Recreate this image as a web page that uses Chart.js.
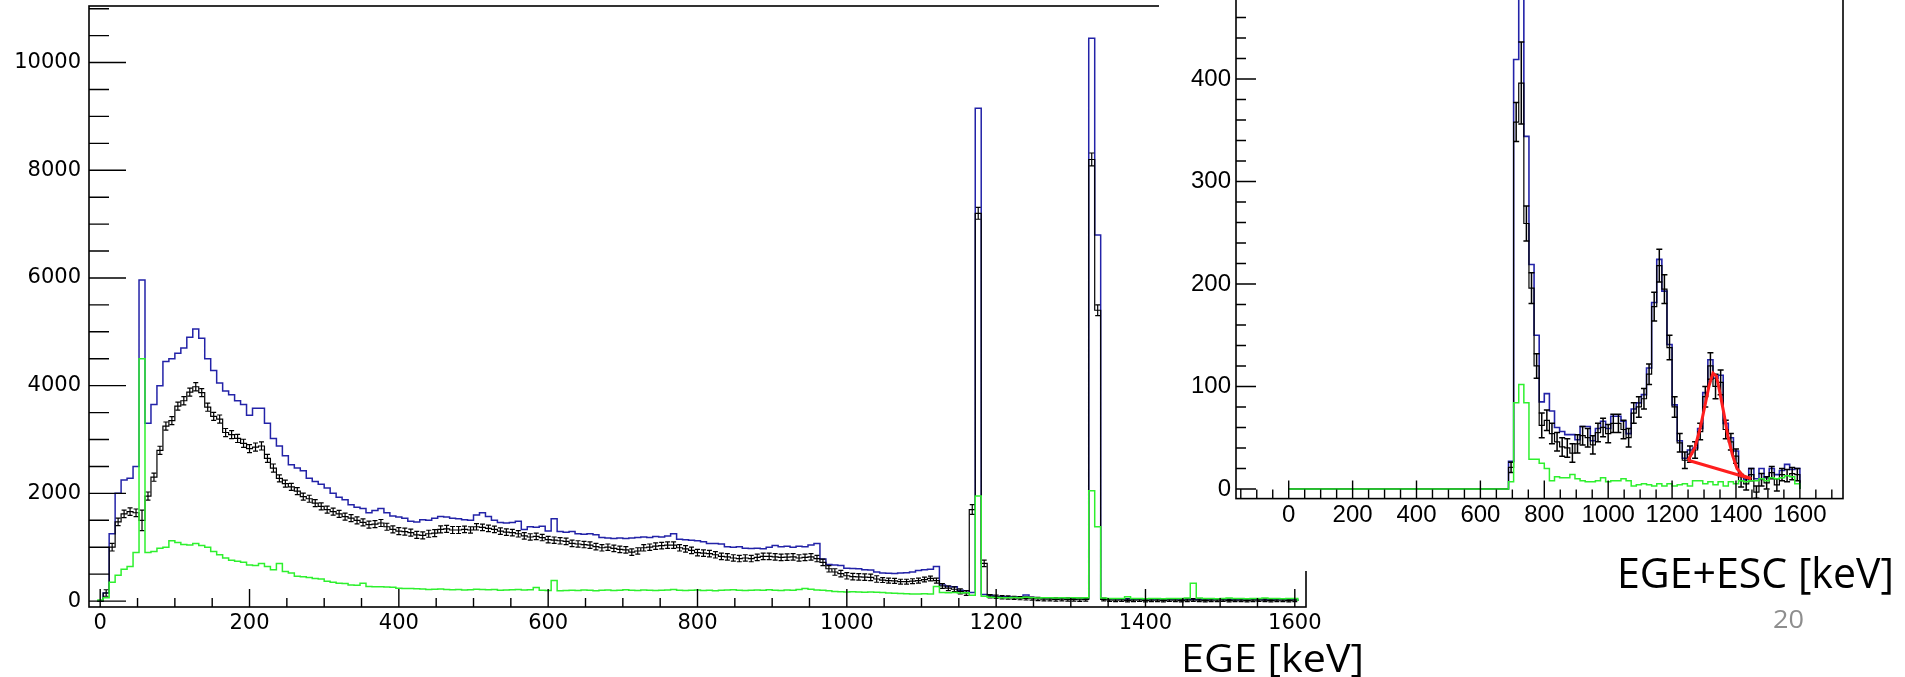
<!DOCTYPE html>
<html>
<head>
<meta charset="utf-8">
<script src="https://cdn.jsdelivr.net/npm/chart.js@4.4.0/dist/chart.umd.min.js"></script>
<style>
  html, body { margin: 0; padding: 0; background: #fff; }
  body { position: relative; width: 1905px; height: 677px; overflow: hidden; }
  canvas { position: absolute; }
  #leftChart { left: 0; top: 0; }
  #rightChart { left: 1159px; top: -25px; }
  .lbl { position: absolute; font-family: "Open Sans", sans-serif; color: #000; white-space: nowrap; line-height: 1; transform-origin: 0 0; }
  #egeTitle { left: 1181px; top: 637px; font-size: 39px; }
  #sumTitle { left: 1617px; top: 551px; font-size: 42px; }
  #pageNum { left: 1773px; top: 605px; font-size: 26px; color: #8e8e8e; }
</style>
</head>
<body>
<canvas id="leftChart" width="1905" height="677"></canvas>
<canvas id="rightChart" width="746" height="596"></canvas>
<div class="lbl" id="egeTitle">EGE [keV]</div>
<div class="lbl" id="sumTitle">EGE+ESC [keV]</div>
<div class="lbl" id="pageNum">20</div>
<script>
// ---- left spectrum: EGE, 8 keV bins, bin i covers [8i-4, 8i+4) ----
var leftFirstEdge = -4;
var leftBinWidth = 8;
var leftXTicks = [0, 200, 400, 600, 800, 1000, 1200, 1400, 1600];
var leftYTicks = [0, 2000, 4000, 6000, 8000, 10000];

var leftBlue = [
  0, 150, 1250, 2000, 2250, 2280, 2500, 5960, 3300, 3650,
  4000, 4450, 4500, 4600, 4700, 4900, 5050, 4880, 4500, 4280,
  4050, 3900, 3830, 3720, 3650, 3450, 3580, 3580, 3300, 3020,
  2880, 2700, 2530, 2470, 2420, 2280, 2220, 2170, 2100, 2000,
  1930, 1880, 1790, 1740, 1720, 1640, 1680, 1720, 1640, 1580,
  1560, 1540, 1480, 1470, 1510, 1500, 1540, 1570, 1560, 1540,
  1530, 1510, 1500, 1600, 1640, 1570, 1500, 1460, 1450, 1460,
  1480, 1330, 1380, 1370, 1390, 1300, 1530, 1290, 1280, 1290,
  1250, 1240, 1250, 1230, 1180, 1170, 1160, 1170, 1160, 1170,
  1180, 1190, 1180, 1200, 1190, 1210, 1250, 1150, 1140, 1130,
  1120, 1100, 1070, 1070, 1060, 1010, 1000, 1010, 980, 975,
  980, 970, 1000, 1030, 1010, 1020, 1000, 1020, 1010, 1040,
  1070, 780, 680, 670, 660, 610, 605, 600, 580, 575,
  540, 520, 515, 510, 520, 525, 540, 570, 580, 590,
  640, 300, 270, 265, 200, 190, 160, 9150, 120, 110,
  85, 80, 80, 75, 80, 115, 65, 60, 55, 55,
  50, 55, 50, 50, 45, 50, 10450, 6800, 45, 40,
  40, 35, 45, 35, 35, 30, 30, 35, 30, 30,
  35, 30, 40, 30, 30, 25, 30, 35, 30, 30,
  25, 30, 30, 35, 30, 25, 30, 30, 30, 25,
  30
];

var leftBlack = [
  0, 150, 1000, 1470, 1620, 1660, 1640, 1500, 1950, 2300,
  2800, 3250, 3350, 3620, 3720, 3880, 3980, 3870, 3600, 3430,
  3380, 3130, 3090, 3020, 2930, 2830, 2860, 2880, 2650, 2470,
  2280, 2180, 2120, 2040, 1940, 1900, 1820, 1760, 1700, 1660,
  1620, 1570, 1540, 1500, 1460, 1420, 1430, 1450, 1380, 1330,
  1300, 1290, 1270, 1230, 1220, 1250, 1260, 1330, 1340, 1320,
  1320, 1330, 1320, 1380, 1370, 1350, 1330, 1300, 1280, 1270,
  1250, 1210, 1190, 1200, 1180, 1140, 1130, 1120, 1110, 1070,
  1060, 1050, 1040, 1010, 990, 1000, 980, 960, 950, 910,
  930, 990, 1000, 1020, 1030, 1040, 1040, 990, 970, 940,
  900, 890, 880, 860, 830, 820, 800, 790, 800, 790,
  810, 830, 830, 820, 810, 815, 820, 800, 810, 820,
  790, 720, 600, 540, 510, 470, 455, 450, 445, 440,
  410, 390, 380, 375, 360, 360, 370, 380, 400, 420,
  380, 280, 240, 220, 180, 150, 1700, 7200, 700, 90,
  80, 70, 65, 60, 55, 50, 45, 40, 35, 35,
  30, 35, 30, 30, 25, 30, 8200, 5400, 30, 20,
  15, 20, 10, 15, 20, 10, 15, 15, 10, 20,
  15, 10, 15, 20, 15, 10, 15, 15, 20, 10,
  15, 15, 10, 15, 20, 15, 10, 15, 15, 10,
  15
];

var leftBlackErr = [
  0, 60, 70, 70, 70, 70, 70, 190, 75, 75,
  75, 75, 75, 75, 75, 75, 75, 75, 75, 75,
  75, 75, 75, 75, 75, 75, 75, 75, 75, 75,
  65, 65, 65, 65, 65, 65, 65, 65, 65, 65,
  65, 65, 65, 65, 65, 65, 65, 65, 65, 65,
  65, 65, 65, 65, 65, 65, 65, 65, 65, 65,
  65, 60, 60, 60, 60, 60, 60, 60, 60, 60,
  60, 60, 60, 60, 60, 60, 60, 60, 60, 60,
  60, 60, 60, 60, 60, 60, 60, 60, 60, 60,
  60, 60, 60, 60, 60, 60, 60, 60, 60, 60,
  60, 60, 60, 60, 60, 60, 60, 60, 60, 60,
  60, 60, 60, 60, 60, 60, 60, 60, 60, 60,
  60, 60, 60, 60, 60, 60, 60, 60, 60, 60,
  60, 45, 45, 45, 45, 45, 45, 45, 45, 45,
  45, 45, 45, 45, 45, 45, 90, 110, 60, 30,
  30, 30, 30, 30, 30, 30, 30, 30, 30, 30,
  30, 30, 30, 30, 30, 30, 120, 100, 25, 25,
  25, 25, 25, 25, 25, 25, 25, 25, 25, 25,
  25, 25, 25, 25, 25, 25, 25, 25, 25, 25,
  25, 25, 25, 25, 25, 25, 25, 25, 25, 25,
  25
];

var leftGreen = [
  20, 60, 350, 480, 590, 640, 900, 4500, 900, 920,
  980, 1000, 1120, 1090, 1050, 1040, 1070, 1030, 1000, 920,
  860, 800, 760, 740, 720, 670, 660, 700, 640, 580,
  700, 550, 520, 460, 450, 440, 420, 410, 370, 350,
  330, 325, 300, 295, 330, 270, 265, 265, 260, 255,
  240, 235, 235, 230, 225, 215, 220, 225, 215, 210,
  215, 205, 210, 220, 215, 210, 215, 200, 205, 210,
  215, 205, 210, 250, 200, 195, 380, 190, 195, 200,
  195, 205, 200, 190, 200, 205, 195, 200, 210, 200,
  195, 205, 200, 195, 200, 205, 215, 200, 195, 200,
  205, 195, 200, 190, 200, 205, 210, 200, 195, 200,
  205, 200, 210, 200, 195, 205, 200, 215, 235, 220,
  205, 200, 190, 180, 175, 170, 175, 170, 165, 170,
  165, 160, 150, 145, 140, 135, 130, 130, 135, 130,
  270, 160, 155, 160, 150, 155, 110, 1950, 90, 70,
  65, 60, 60, 65, 60, 70, 60, 55, 60, 60,
  55, 60, 55, 60, 55, 60, 2050, 1380, 55, 50,
  50, 50, 80, 50, 50, 45, 50, 50, 45, 50,
  50, 50, 55, 330, 55, 50, 50, 45, 50, 55,
  50, 50, 45, 50, 50, 55, 50, 50, 45, 50,
  50
];

// ---- right spectrum: EGE+ESC, 16 keV bins from 0 to 1600 ----
var rightFirstEdge = 0;
var rightBinWidth = 16;
var rightXTicks = [0, 200, 400, 600, 800, 1000, 1200, 1400, 1600];
var rightYTicks = [0, 100, 200, 300, 400];

var rightBlue = [
  0, 0, 0, 0, 0, 0, 0, 0, 0, 0,
  0, 0, 0, 0, 0, 0, 0, 0, 0, 0,
  0, 0, 0, 0, 0, 0, 0, 0, 0, 0,
  0, 0, 0, 0, 0, 0, 0, 0, 0, 0,
  0, 0, 0, 27, 419, 530, 344, 219, 150, 85,
  93, 76, 60, 56, 53, 53, 48, 61, 61, 47,
  59, 66, 59, 71, 71, 66, 54, 78, 84, 92,
  118, 182, 224, 193, 141, 82, 47, 30, 38, 40,
  59, 94, 126, 108, 111, 64, 50, 37, 12, 9,
  20, 10, 20, 11, 20, 14, 18, 24, 19, 20
];

var rightBlack = [
  0, 0, 0, 0, 0, 0, 0, 0, 0, 0,
  0, 0, 0, 0, 0, 0, 0, 0, 0, 0,
  0, 0, 0, 0, 0, 0, 0, 0, 0, 0,
  0, 0, 0, 0, 0, 0, 0, 0, 0, 0,
  0, 0, 0, 21, 358, 396, 259, 196, 120, 62,
  67, 54, 46, 41, 40, 35, 44, 52, 50, 43,
  55, 60, 54, 64, 64, 58, 50, 74, 80, 88,
  112, 178, 218, 195, 138, 80, 45, 28, 34, 38,
  56, 90, 120, 100, 104, 58, 46, 32, 8, 5,
  14, -3, 9, 6, 16, 4, 14, 13, 15, 14
];

var rightBlackErr = [
  0, 0, 0, 0, 0, 0, 0, 0, 0, 0,
  0, 0, 0, 0, 0, 0, 0, 0, 0, 0,
  0, 0, 0, 0, 0, 0, 0, 0, 0, 0,
  0, 0, 0, 0, 0, 0, 0, 0, 0, 0,
  0, 0, 0, 5, 19, 40, 17, 15, 12, 12,
  10, 10, 9, 9, 9, 9, 9, 9, 9, 9,
  9, 9, 9, 9, 9, 9, 9, 10, 10, 10,
  10, 14, 16, 14, 12, 10, 9, 8, 8, 8,
  8, 10, 13, 12, 12, 9, 8, 7, 6, 6,
  6, 6, 6, 6, 6, 6, 6, 6, 6, 6
];

var rightGreen = [
  0, 0, 0, 0, 0, 0, 0, 0, 0, 0,
  0, 0, 0, 0, 0, 0, 0, 0, 0, 0,
  0, 0, 0, 0, 0, 0, 0, 0, 0, 0,
  0, 0, 0, 0, 0, 0, 0, 0, 0, 0,
  0, 0, 0, 7, 84, 102, 84, 29, 29, 25,
  20, 8, 12, 11, 11, 14, 10, 8, 7, 7,
  8, 11, 7, 8, 8, 10, 8, 3, 4, 5,
  4, 3, 5, 3, 5, 3, 4, 5, 3, 8,
  8, 5, 7, 4, 7, 3, 7, 5, 8, 7,
  8, 8, 10, 8, 11, 10, 11, 13, 12, 5
];

// red fit drawn over the 1332 keV peak (curve, then the baseline back to its start)
var fitX = [1250, 1271, 1287, 1302, 1316, 1328, 1339, 1349, 1362, 1375, 1389, 1403, 1422, 1448, 1250];
var fitY = [28, 40, 58, 80, 101, 113, 110, 95, 74, 51, 33, 20, 13, 10, 28];

var BLUE = "#2323a8";
var GREEN = "#2ef02e";
var BLACK = "#000000";
var RED = "#ff1e1e";

Chart.defaults.font.family = "DejaVu Sans";
Chart.defaults.color = "#000";

function histPoints(values, firstEdge, width) {
  var pts = values.map(function (v, i) {
    return { x: firstEdge + i * width, y: v };
  });
  pts.push({ x: firstEdge + values.length * width, y: 0 });
  return pts;
}

function binCentres(values, firstEdge, width) {
  return values.map(function (v, i) {
    return firstEdge + (i + 0.5) * width;
  });
}

// ROOT style frame with ticks pointing into the pad
var rootAxes = {
  id: "rootAxes",
  beforeDraw: function (chart, args, o) {
    if (!o.background) return;
    var ctx = chart.ctx;
    ctx.save();
    ctx.fillStyle = o.background;
    ctx.fillRect(0, 0, chart.width, chart.height);
    ctx.restore();
  },
  afterDraw: function (chart, args, o) {
    var ctx = chart.ctx;
    var a = chart.chartArea;
    var xs = chart.scales.x;
    var ys = chart.scales.y;
    var v, p, len;
    ctx.save();
    ctx.strokeStyle = "#000";
    ctx.lineWidth = o.frameWidth;
    ctx.strokeRect(a.left, a.top, a.right - a.left, a.bottom - a.top);
    ctx.lineWidth = o.tickWidth;
    ctx.beginPath();
    for (v = Math.ceil(xs.min / o.xMinor) * o.xMinor; v <= xs.max; v += o.xMinor) {
      p = xs.getPixelForValue(v);
      len = v % o.xMajor === 0 ? o.xMajorLen : o.xMinorLen;
      ctx.moveTo(p, a.bottom);
      ctx.lineTo(p, a.bottom - len);
    }
    for (v = Math.ceil(ys.min / o.yMinor) * o.yMinor; v <= ys.max; v += o.yMinor) {
      p = ys.getPixelForValue(v);
      len = v % o.yMajor === 0 ? o.yMajorLen : o.yMinorLen;
      ctx.moveTo(a.left, p);
      ctx.lineTo(a.left + len, p);
    }
    ctx.stroke();
    ctx.restore();
  },
};

// vertical error bars with small caps, drawn right after their own histogram
var errorBars = {
  id: "errorBars",
  afterDatasetDraw: function (chart, args, o) {
    var ds = chart.data.datasets[args.index];
    if (!ds.errBars) return;
    var ctx = chart.ctx;
    var a = chart.chartArea;
    var xs = chart.scales.x;
    var ys = chart.scales.y;
    var eb = ds.errBars;
    ctx.save();
    ctx.beginPath();
    ctx.rect(a.left, a.top, a.right - a.left, a.bottom - a.top);
    ctx.clip();
    ctx.strokeStyle = ds.borderColor;
    ctx.lineWidth = o.width;
    ctx.beginPath();
    eb.err.forEach(function (e, i) {
      if (!e) return;
      var x = xs.getPixelForValue(eb.x[i]);
      var lo = ys.getPixelForValue(eb.y[i] - e);
      var hi = ys.getPixelForValue(eb.y[i] + e);
      ctx.moveTo(x, lo);
      ctx.lineTo(x, hi);
      ctx.moveTo(x - o.cap, lo);
      ctx.lineTo(x + o.cap, lo);
      ctx.moveTo(x - o.cap, hi);
      ctx.lineTo(x + o.cap, hi);
    });
    ctx.stroke();
    ctx.restore();
  },
};

function plainLabel(v) {
  return String(v);
}

// keep the frame exactly where the layout padding puts it
function noLabelPadding(s) {
  s.paddingTop = 0;
  s.paddingBottom = 0;
  s.paddingLeft = 0;
  s.paddingRight = 0;
}

function histDataset(label, values, firstEdge, width, color, lineWidth, order) {
  return {
    label: label,
    data: histPoints(values, firstEdge, width),
    borderColor: color,
    borderWidth: lineWidth,
    stepped: true,
    fill: false,
    pointRadius: 0,
    order: order,
  };
}

// ---------------- left chart ----------------
var leftBlackSet = histDataset("EGE", leftBlack, leftFirstEdge, leftBinWidth, BLACK, 1.2, 2);
leftBlackSet.errBars = {
  x: binCentres(leftBlack, leftFirstEdge, leftBinWidth),
  y: leftBlack,
  err: leftBlackErr,
};

new Chart(document.getElementById("leftChart"), {
  type: "line",
  data: {
    datasets: [
      histDataset("EGE all", leftBlue, leftFirstEdge, leftBinWidth, BLUE, 1.5, 3),
      leftBlackSet,
      histDataset("EGE background", leftGreen, leftFirstEdge, leftBinWidth, GREEN, 1.5, 1),
    ],
  },
  options: {
    responsive: false,
    animation: false,
    devicePixelRatio: 1,
    events: [],
    layout: { autoPadding: false, padding: { left: 0, top: 6, right: 599, bottom: 0 } },
    plugins: {
      legend: { display: false },
      tooltip: { enabled: false },
      rootAxes: {
        frameWidth: 1.6, tickWidth: 1.4,
        xMinor: 50, xMajor: 200, xMinorLen: 9, xMajorLen: 18,
        yMinor: 500, yMajor: 2000, yMinorLen: 20, yMajorLen: 37,
      },
      errorBars: { width: 1.2, cap: 2.5 },
    },
    scales: {
      x: {
        type: "linear",
        min: -15,
        max: 1615,
        grid: { display: false, drawTicks: false },
        border: { display: false },
        afterBuildTicks: function (s) {
          s.ticks = leftXTicks.map(function (v) { return { value: v }; });
        },
        afterFit: function (s) { s.height = 70; noLabelPadding(s); },
        ticks: { font: { size: 21 }, padding: 4, maxRotation: 0, autoSkip: false, callback: plainLabel },
      },
      y: {
        type: "linear",
        min: -110,
        max: 11050,
        grid: { display: false, drawTicks: false },
        border: { display: false },
        afterBuildTicks: function (s) {
          s.ticks = leftYTicks.map(function (v) { return { value: v }; });
        },
        afterFit: function (s) { s.width = 89; noLabelPadding(s); },
        ticks: { font: { size: 21 }, padding: 8, autoSkip: false, callback: plainLabel },
      },
    },
  },
  plugins: [rootAxes, errorBars],
});

// ---------------- right chart (pasted over the top right) ----------------
var rightBlackSet = histDataset("EGE+ESC", rightBlack, rightFirstEdge, rightBinWidth, BLACK, 1.2, 2);
rightBlackSet.errBars = {
  x: binCentres(rightBlack, rightFirstEdge, rightBinWidth),
  y: rightBlack,
  err: rightBlackErr,
};

new Chart(document.getElementById("rightChart"), {
  type: "line",
  data: {
    datasets: [
      histDataset("EGE+ESC all", rightBlue, rightFirstEdge, rightBinWidth, BLUE, 1.6, 3),
      rightBlackSet,
      histDataset("EGE+ESC background", rightGreen, rightFirstEdge, rightBinWidth, GREEN, 1.5, 1),
      {
        label: "fit",
        data: fitX.map(function (x, i) { return { x: x, y: fitY[i] }; }),
        borderColor: RED,
        borderWidth: 3,
        pointRadius: 0,
        fill: false,
        tension: 0,
        order: 0,
      },
    ],
  },
  options: {
    responsive: false,
    animation: false,
    devicePixelRatio: 1,
    events: [],
    layout: { autoPadding: false, padding: { left: 0, top: 1.5, right: 62, bottom: 0 } },
    plugins: {
      legend: { display: false },
      tooltip: { enabled: false },
      rootAxes: {
        background: "#fff",
        frameWidth: 1.6, tickWidth: 1.4,
        xMinor: 50, xMajor: 200, xMinorLen: 9, xMajorLen: 18,
        yMinor: 20, yMajor: 100, yMinorLen: 10, yMajorLen: 20,
      },
      errorBars: { width: 1.5, cap: 3 },
    },
    scales: {
      x: {
        type: "linear",
        min: -165,
        max: 1735,
        grid: { display: false, drawTicks: false },
        border: { display: false },
        afterBuildTicks: function (s) {
          s.ticks = rightXTicks.map(function (v) { return { value: v }; });
        },
        afterFit: function (s) { s.height = 72.4; noLabelPadding(s); },
        ticks: { font: { family: "Liberation Sans", size: 24 }, padding: 2, maxRotation: 0, autoSkip: false, callback: plainLabel },
      },
      y: {
        type: "linear",
        min: -9.4,
        max: 500,
        grid: { display: false, drawTicks: false },
        border: { display: false },
        afterBuildTicks: function (s) {
          s.ticks = rightYTicks.map(function (v) { return { value: v }; });
        },
        afterFit: function (s) { s.width = 77; noLabelPadding(s); },
        ticks: { font: { family: "Liberation Sans", size: 24 }, padding: 5, autoSkip: false, callback: plainLabel },
      },
    },
  },
  plugins: [rootAxes, errorBars],
});

// slide captions: stretch to the widths seen on the slide
function fitWidth(id, width) {
  var el = document.getElementById(id);
  var w = el.getBoundingClientRect().width;
  el.style.transform = "scaleX(" + (width / w).toFixed(3) + ")";
}
fitWidth("egeTitle", 183);
fitWidth("sumTitle", 277);
fitWidth("pageNum", 31);
</script>
</body>
</html>
